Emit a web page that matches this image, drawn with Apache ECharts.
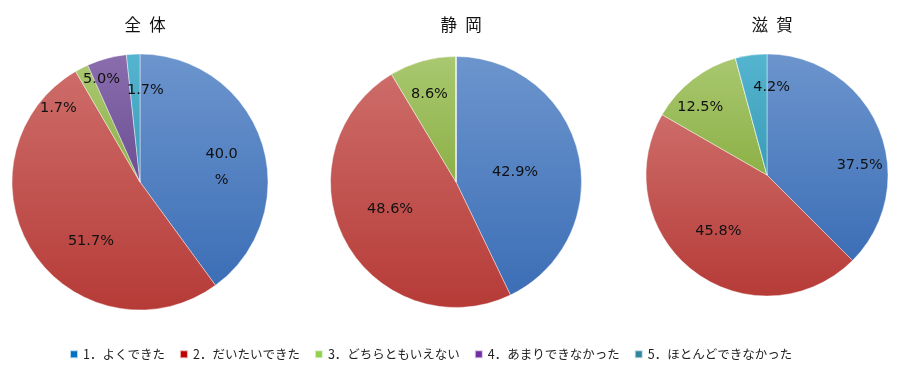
<!DOCTYPE html>
<html><head><meta charset="utf-8">
<script src="https://cdn.jsdelivr.net/npm/echarts@6/dist/echarts.min.js"></script>
<style>html,body{margin:0;padding:0;background:#fff}#c{width:918px;height:392px}</style>
</head><body><div id="c"></div>
<script>
const categories = ['1．よくできた', '2．だいたいできた', '3．どちらともいえない', '4．あまりできなかった', '5．ほとんどできなかった'];
const titles = ['全\u2002体', '静\u2002岡', '滋\u2002賀'];
const zentai = [40.0, 51.7, 1.7, 5.0, 1.7];
const shizuoka = [42.9, 48.6, 8.6, 0, 0];
const shiga = [37.5, 45.8, 12.5, 0, 4.2];

const seriesValues = [zentai, shizuoka, shiga];
const centers = [[140, 182], [456, 182], [767, 175]];
const radii = [128, 125.5, 121];
const legendColors = ['#0070C0', '#C00000', '#92D050', '#7030A0', '#31859C'];
const sliceGrad = [['#6C95CD', '#3C6EB6'], ['#CD6C69', '#B63B37'], ['#A9C870', '#8DB046'], ['#8A6DAD', '#6C4F93'], ['#55B5D0', '#3A9BB8']];
// label nudges away from the default mid-radius position (Excel best-fit look)
const labelNudge = [
  [[18, 6], [7, 23], [-51, -14], [-21, -38], [9, -25]],
  [[-5, 5], [-8, -4], [-9, -24], [0, 0], [0, 0]],
  [[34, 15], [-10, 6], [-28, -17], [0, 0], [13, -25]]
];

function grad(c) {
  return new echarts.graphic.LinearGradient(0, 0, 0, 1, [{offset: 0, color: c[0]}, {offset: 1, color: c[1]}]);
}

const chart = echarts.init(document.getElementById('c'), null, {renderer: 'canvas'});
const series = seriesValues.map((vals, si) => ({
  type: 'pie',
  center: centers[si],
  radius: radii[si],
  startAngle: 90,
  clockwise: true,
  animation: false,
  silent: true,
  avoidLabelOverlap: false,
  itemStyle: {borderColor: 'rgba(255,255,255,0.7)', borderWidth: 0.6},
  label: {
    position: 'inside',
    color: '#111',
    fontFamily: 'DejaVu Sans',
    fontSize: 14.5,
    formatter: p => p.value > 0 ? p.value.toFixed(1) + '%' : ''
  },
  labelLine: {show: false},
  labelLayout: params => {
    const n = labelNudge[params.seriesIndex][params.dataIndex];
    return {dx: n[0], dy: n[1]};
  },
  data: vals.map((v, i) => {
    const d = {name: categories[i], value: v, itemStyle: {color: grad(sliceGrad[i])}};
    if (si === 0 && i === 0) d.label = {width: 40, overflow: 'break', lineHeight: 26};
    return d;
  })
}));

chart.setOption({
  backgroundColor: '#fff',
  title: titles.map((t, i) => ({
    text: t, left: centers[i][0], top: 11, textAlign: 'center',
    textStyle: {fontFamily: 'Noto Sans CJK JP', fontSize: 16.5, fontWeight: 'normal', color: '#111'}
  })),
  legend: {
    left: 64, top: 343,
    itemWidth: 8, itemHeight: 8, itemGap: 14,
    icon: 'rect',
    selectedMode: false,
    textStyle: {fontFamily: 'Noto Sans CJK JP', fontSize: 12.5, color: '#222'},
    data: categories.map((c, i) => ({name: c, itemStyle: {color: legendColors[i]}}))
  },
  series: series
});
</script></body></html>
